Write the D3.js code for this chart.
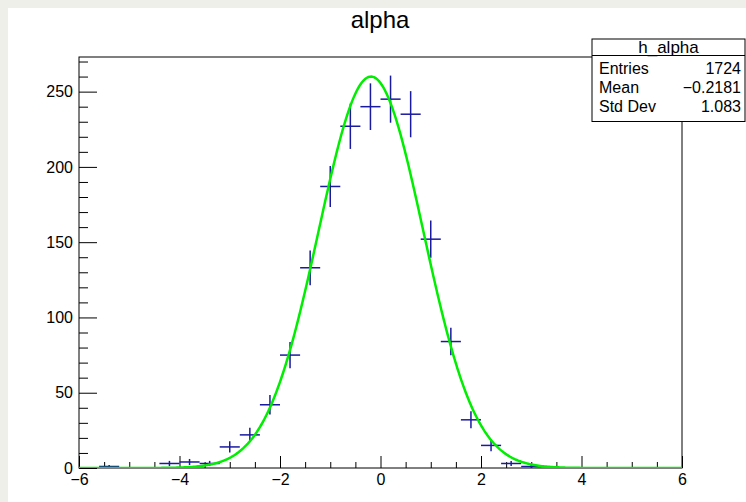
<!DOCTYPE html>
<html>
<head>
<meta charset="utf-8">
<script src="https://cdn.jsdelivr.net/npm/d3@7"></script>
<style>
body { margin: 0; background: #efefe9; }
svg { display: block; }
text { font-family: "Liberation Sans", Arial, sans-serif; fill: #000; }
</style>
</head>
<body>
<svg width="746" height="502"></svg>
<script>
'use strict';

// histogram h_alpha, bins of 0.4 from -6 to 6 (only filled bins listed)
var binCenters = [-5.4, -4.2, -3.8, -3.4, -3.0, -2.6, -2.2, -1.8, -1.4, -1.0, -0.6, -0.2, 0.2, 0.6, 1.0, 1.4, 1.8, 2.2, 2.6, 3.0];
var binCounts  = [1, 3, 4, 3, 14, 22, 42, 75, 133, 187, 227, 240, 245, 235, 152, 84, 32, 15, 3, 1];
var binWidth = 0.4;

// gaussian fit: constant, mean, sigma
var fitParams = [260, -0.19, 1.04];

var xMajor = [-6, -4, -2, 0, 2, 4, 6];
var xMinor = [-5.5, -5, -4.5, -3.5, -3, -2.5, -1.5, -1, -0.5, 0.5, 1, 1.5, 2.5, 3, 3.5, 4.5, 5, 5.5];
var yMajor = [0, 50, 100, 150, 200, 250];
var yMinor = [10, 20, 30, 40, 60, 70, 80, 90, 110, 120, 130, 140, 160, 170, 180, 190, 210, 220, 230, 240, 260, 270];

var statsTitle = 'h_alpha';
var statsLabels = ['Entries', 'Mean', 'Std Dev'];
var statsValues = ['1724', '\u22120.2181', '1.083'];

var svg = d3.select('svg'),
    frame = {left: 79, right: 682, top: 57, bottom: 468};

// white pad
svg.append('rect')
    .attr('x', 8).attr('y', 8)
    .attr('width', 746 - 8).attr('height', 502 - 8)
    .attr('fill', '#fff');

var x = d3.scaleLinear().domain([-6, 6]).range([frame.left, frame.right]);
var y = d3.scaleLinear().domain([0, 273]).range([frame.bottom, frame.top]);

// title
svg.append('text')
    .attr('x', 380).attr('y', 28)
    .attr('text-anchor', 'middle')
    .style('font-size', '24px')
    .text('alpha');

// x axis
svg.append('g')
    .attr('transform', 'translate(0,' + frame.bottom + ')')
    .call(d3.axisBottom(x).tickValues(xMajor).tickSize(-12).tickPadding(6));
svg.append('g')
    .attr('transform', 'translate(0,' + frame.bottom + ')')
    .call(d3.axisBottom(x).tickValues(xMinor).tickSize(-6).tickFormat(''));

// y axis
svg.append('g')
    .attr('transform', 'translate(' + frame.left + ',0)')
    .call(d3.axisLeft(y).tickValues(yMajor).tickSize(-18).tickPadding(6));
svg.append('g')
    .attr('transform', 'translate(' + frame.left + ',0)')
    .call(d3.axisLeft(y).tickValues(yMinor).tickSize(-9).tickFormat(''));

svg.selectAll('.domain').remove();
svg.selectAll('.tick line').attr('stroke', '#000');
svg.selectAll('.tick text')
    .style('font-size', '16px')
    .style('font-family', '"Liberation Sans", Arial, sans-serif');

// frame box
svg.append('rect')
    .attr('x', frame.left).attr('y', frame.top)
    .attr('width', frame.right - frame.left)
    .attr('height', frame.bottom - frame.top)
    .attr('fill', 'none')
    .attr('stroke', '#000')
    .attr('stroke-width', 1);

// error-bar crosses
var hist = binCenters.map(function(c, i) { return {x: c, n: binCounts[i]}; });
var marks = svg.append('g')
    .attr('stroke', '#1a1aa0')
    .attr('stroke-width', 1.5);

marks.selectAll('.hbar')
    .data(hist)
    .enter().append('line')
    .attr('x1', function(d) { return x(d.x - binWidth / 2); })
    .attr('x2', function(d) { return x(d.x + binWidth / 2); })
    .attr('y1', function(d) { return y(d.n); })
    .attr('y2', function(d) { return y(d.n); });

marks.selectAll('.vbar')
    .data(hist)
    .enter().append('line')
    .attr('x1', function(d) { return x(d.x); })
    .attr('x2', function(d) { return x(d.x); })
    .attr('y1', function(d) { return y(d.n - Math.sqrt(d.n)); })
    .attr('y2', function(d) { return y(d.n + Math.sqrt(d.n)); });

// fit curve
svg.append('clipPath').attr('id', 'clip')
    .append('rect')
    .attr('x', frame.left).attr('y', frame.top)
    .attr('width', frame.right - frame.left)
    .attr('height', frame.bottom - frame.top);

function gaus(v) {
    var t = (v - fitParams[1]) / fitParams[2];
    return fitParams[0] * Math.exp(-0.5 * t * t);
}
var curveX = d3.range(-6, 6.0001, 0.03);
var line = d3.line()
    .x(function(d) { return x(d); })
    .y(function(d) { return y(gaus(d)); });

svg.append('path')
    .datum(curveX)
    .attr('clip-path', 'url(#clip)')
    .attr('d', line)
    .attr('fill', 'none')
    .attr('stroke', '#00ee00')
    .attr('stroke-width', 2.5);

// stats box
var box = {left: 592, right: 745, top: 39, sep: 55.5, bottom: 121.5};
svg.append('rect')
    .attr('x', box.left).attr('y', box.top)
    .attr('width', box.right - box.left)
    .attr('height', box.bottom - box.top)
    .attr('fill', '#fff')
    .attr('stroke', '#000');
svg.append('line')
    .attr('x1', box.left).attr('x2', box.right)
    .attr('y1', box.sep).attr('y2', box.sep)
    .attr('stroke', '#000');
svg.append('text')
    .attr('x', (box.left + box.right) / 2).attr('y', 53)
    .attr('text-anchor', 'middle')
    .style('font-size', '17px')
    .text(statsTitle);

statsLabels.forEach(function(label, i) {
    var by = 74 + i * 19;
    svg.append('text')
        .attr('x', 599).attr('y', by)
        .style('font-size', '16px')
        .text(label);
    svg.append('text')
        .attr('x', 741).attr('y', by)
        .attr('text-anchor', 'end')
        .style('font-size', '16px')
        .text(statsValues[i]);
});
</script>
</body>
</html>
